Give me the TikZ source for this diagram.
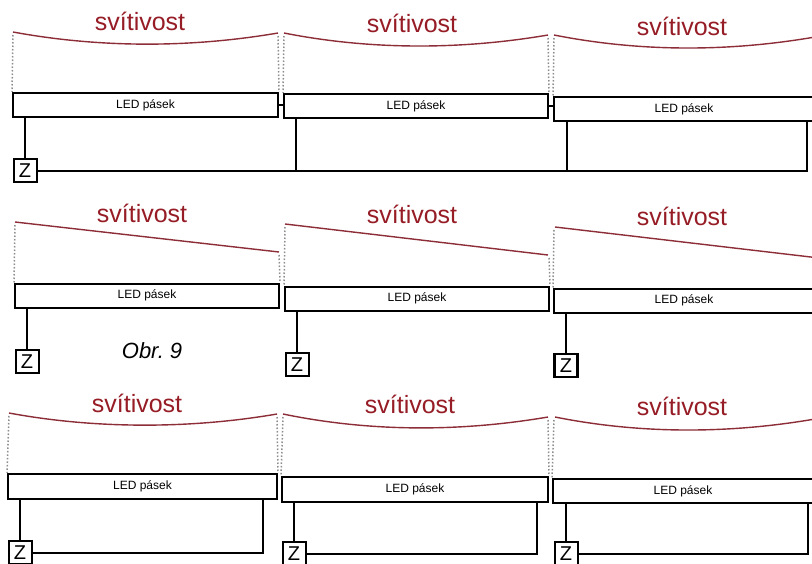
\documentclass[tikz,border=0pt]{standalone}
\usepackage{fontspec}
\setmainfont{Liberation Sans}
\definecolor{svred}{RGB}{150,28,38}
\definecolor{curvered}{RGB}{140,45,55}
\begin{document}
\begin{tikzpicture}[x=1pt,y=-1pt,
  ledbox/.style={draw=black, line width=2pt, fill=white, minimum height=24pt, inner sep=0pt, font=\fontsize{12}{14}\selectfont},
  zbox/.style={draw=black, line width=2pt, fill=white, minimum size=23pt, inner sep=0pt, font=\fontsize{20}{22}\selectfont},
  wire/.style={line width=2pt, line cap=rect},
  curve/.style={draw=curvered, line width=1.4pt},
  guide/.style={draw=black!45, dotted, line width=1.5pt},
  title/.style={text=svred, font=\fontsize{25}{30}\selectfont, anchor=base, inner sep=0pt}]
\clip (0,0) rectangle (812,563);
\fill[white] (0,0) rectangle (812,563);

% ---------------- Row 1 ----------------
\node[title] (s11) at (140,30) {svítivost};
\node[title] (s12) at (412,32) {svítivost};
\node[title] (s13) at (682,35) {svítivost};
\draw[curve] (13,32) .. controls (100,48) and (190,48) .. (278,33);
\draw[curve] (284,33) .. controls (370,50) and (460,50) .. (548,35);
\draw[curve] (554,35) .. controls (640,52) and (728,52) .. (815,37);
\node[ledbox, minimum width=265pt] (a1) at (145.5,105) {LED pásek};
\node[ledbox, minimum width=264pt] (b1) at (416,106) {LED pásek};
\node[ledbox, minimum width=270pt] (c1) at (689,109) {LED pásek\hspace*{10pt}};
\draw[guide] (13,35) -- (a1.north west);
\draw[guide] (278,36) -- (a1.north east);
\draw[guide] (284,36) -- (b1.north west);
\draw[guide] (548,38) -- (b1.north east);
\draw[guide] (554,38) -- (c1.north west);
\draw[wire] (a1.east) -- (a1.east -| b1.west);
\draw[wire] (b1.east) -- (b1.east -| c1.west);
\node[zbox] (z11) at (25,170.5) {Z};
\draw[wire] (z11.north) -- (z11.north |- a1.south);
\coordinate (t12) at (296,118);
\coordinate (t13) at (567,121);
\coordinate (t14) at (807,121);
\draw[wire] (z11.east) -| (t14);
\draw[wire] (t12) -- (t12 |- z11.east);
\draw[wire] (t13) -- (t13 |- z11.east);

% ---------------- Row 2 ----------------
\node[title] (s21) at (142,222) {svítivost};
\node[title] (s22) at (412,223) {svítivost};
\node[title] (s23) at (682,225) {svítivost};
\draw[curve] (15,222) -- (279,252);
\draw[curve] (285,224) -- (548,255);
\draw[curve] (555,227) -- (815,257.5);
\node[ledbox, minimum width=264pt] (a2) at (147,295.5) {LED pásek};
\node[ledbox, minimum width=264pt] (b2) at (417,298.5) {LED pásek};
\node[ledbox, minimum width=270pt] (c2) at (689,300.5) {LED pásek\hspace*{10pt}};
\draw[guide] (15,225) -- (a2.north west);
\draw[guide] (279,255) -- (a2.north east);
\draw[guide] (285,227) -- (b2.north west);
\draw[guide] (549,258) -- (b2.north east);
\draw[guide] (554,230) -- (c2.north west);
\node[zbox] (z21) at (27,361.5) {Z};
\node[zbox] (z22) at (297,364.5) {Z};
\node[zbox, line width=2.8pt] (z23) at (566,365.5) {Z};
\draw[wire] (z21.north) -- (z21.north |- a2.south);
\draw[wire] (z22.north) -- (z22.north |- b2.south);
\draw[wire] (z23.north) -- (z23.north |- c2.south);
\node[anchor=base, inner sep=0pt, font=\itshape\fontsize{22}{26}\selectfont] (obr) at (152,358) {Obr.\hspace{6pt}9};

% ---------------- Row 3 ----------------
\node[title] (s31) at (137,412) {svítivost};
\node[title] (s32) at (410,413) {svítivost};
\node[title] (s33) at (682,415) {svítivost};
\draw[curve] (9,413) .. controls (95,429) and (190,429) .. (277,414);
\draw[curve] (283,414) .. controls (370,432) and (460,432) .. (548,417);
\draw[curve] (555,417) .. controls (640,434) and (728,434) .. (815,419);
\node[ledbox, minimum width=269pt, minimum height=25pt] (a3) at (142.5,486.5) {LED pásek};
\node[ledbox, minimum width=266pt, minimum height=25pt] (b3) at (415,489.5) {LED pásek};
\node[ledbox, minimum width=270pt, minimum height=24pt] (c3) at (688,491) {LED pásek\hspace*{10pt}};
\draw[guide] (9,416) -- (a3.north west);
\draw[guide] (277,417) -- (a3.north east);
\draw[guide] (283,417) -- (b3.north west);
\draw[guide] (548,420) -- (b3.north east);
\draw[guide] (554,420) -- (c3.north west);
\node[zbox] (z31) at (20,552.5) {Z};
\node[zbox] (z32) at (294,553.5) {Z};
\node[zbox] (z33) at (566,553.5) {Z};
\draw[wire] (z31.north) -- (z31.north |- a3.south);
\draw[wire] (z32.north) -- (z32.north |- b3.south);
\draw[wire] (z33.north) -- (z33.north |- c3.south);
\coordinate (r31) at (263,499);
\coordinate (r32) at (537,502);
\coordinate (r33) at (808,503);
\draw[wire] (z31.east) -| (r31);
\draw[wire] (z32.east) -| (r32);
\draw[wire] (z33.east) -| (r33);
\end{tikzpicture}
\end{document}
